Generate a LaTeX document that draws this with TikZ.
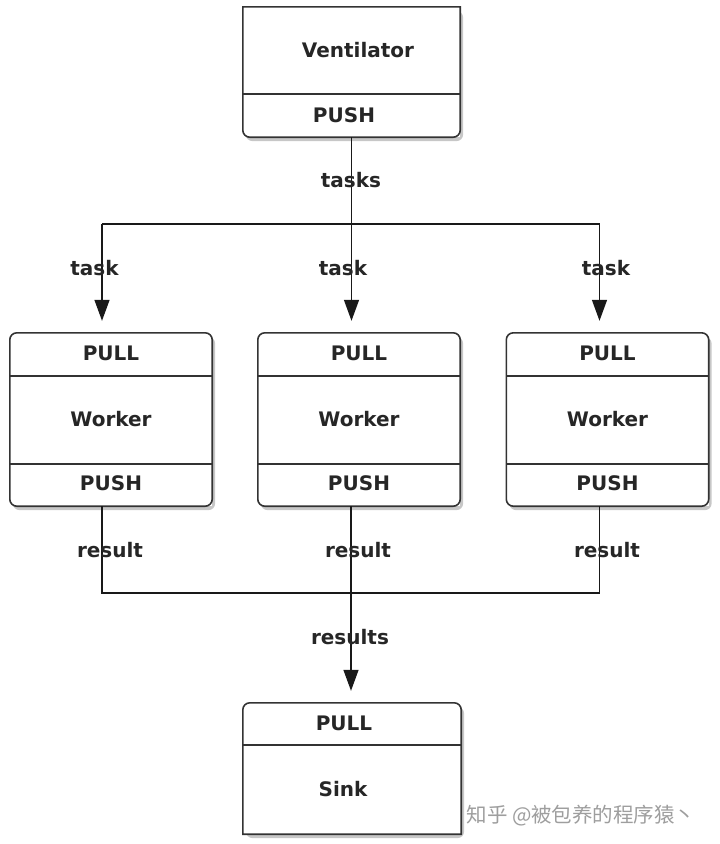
\documentclass[tikz,border=0pt]{standalone}
\usepackage{fontspec}
\setmainfont{DejaVu Sans}
\newfontfamily\cjkfont{Noto Sans CJK SC}
\usetikzlibrary{arrows.meta,calc}
\begin{document}
\begin{tikzpicture}[x=1pt,y=-1pt,
  lbl/.style={font=\bfseries\fontsize{20}{23}\selectfont, text=black!85, inner sep=0pt},
  boxframe/.style={draw=black!80, line width=1.6pt},
  divider/.style={draw=black!80, line width=1.4pt},
  conn/.style={draw=black!90, line width=1.4pt},
  arr/.style={conn, -{Triangle[width=15pt,length=21pt]}, shorten >=12pt},
  shade/.style={fill=black, opacity=0.22, rounded corners=7pt},
  box/.style={inner sep=0pt, minimum width=202pt, minimum height=173pt}
]
\fill[white] (0,0) rectangle (720,844);
\useasboundingbox (0,0) rectangle (720,844);

% ---------- boxes ----------
\node[box, minimum width=217pt, minimum height=130pt] (vent) at (351.5,72) {};
\node[box] (w1) at (111,419.5) {};
\node[box] (w2) at (359,419.5) {};
\node[box] (w3) at (607.5,419.5) {};
\node[box, minimum width=218pt, minimum height=131pt] (sink) at (352,768.5) {};

% shadows
\foreach \b in {vent,w1,w2,w3,sink}{
  \fill[shade] ([xshift=3pt,yshift=-4pt]\b.north west) rectangle ([xshift=3pt,yshift=-4pt]\b.south east);
  \fill[white] (\b.north west) rectangle (\b.south east);
}

\begin{scope}[y=1pt]
% ventilator frame: square top, rounded bottom
\draw[boxframe] ([yshift=7pt]vent.south east) -- (vent.north east) -- (vent.north west)
  -- ([yshift=7pt]vent.south west) arc[start angle=180, end angle=270, radius=7pt]
  -- ([xshift=-7pt]vent.south east) arc[start angle=270, end angle=360, radius=7pt] -- cycle;
% sink frame: rounded top, square bottom
\draw[boxframe] ([yshift=-7pt]sink.north west) arc[start angle=180, end angle=90, radius=7pt]
  -- ([xshift=-7pt]sink.north east) arc[start angle=90, end angle=0, radius=7pt]
  -- (sink.south east) -- (sink.south west) -- cycle;
\end{scope}
\draw[divider] (vent.west |- 0,94) -- (vent.east |- 0,94);
\draw[divider] (sink.west |- 0,745) -- (sink.east |- 0,745);

% workers: all rounded
\foreach \b in {w1,w2,w3}{
  \draw[boxframe, rounded corners=7pt] (\b.north west) rectangle (\b.south east);
  \draw[divider] (\b.west |- 0,376) -- (\b.east |- 0,376);
  \draw[divider] (\b.west |- 0,464) -- (\b.east |- 0,464);
}

% ---------- box texts ----------
\node[lbl] (ventname) at (358,50) {Ventilator};
\node[lbl] (ventpush) at (344,115) {PUSH};
\foreach \b/\x in {w1/111,w2/359,w3/607.5}{
  \node[lbl] (\b pull) at (\x,353) {PULL};
  \node[lbl] (\b name) at (\x,419) {Worker};
  \node[lbl] (\b push) at (\x,483) {PUSH};
}
\node[lbl] (sinkpull) at (344,723) {PULL};
\node[lbl] (sinkname) at (343,789) {Sink};

% ---------- connectors: tasks ----------
\coordinate (tj) at (vent.south |- 0,224);
\coordinate (w1in) at ([xshift=-9pt]w1.north);
\coordinate (w2in) at (tj |- w2.north);
\coordinate (w3in) at ([xshift=-8pt]w3.north);
\draw[conn] (vent.south) -- (tj);
\draw[conn] (w1in |- tj) -- (w3in |- tj);
\draw[arr] (w1in |- tj) -- (w1in);
\draw[arr] (tj) -- (w2in);
\draw[arr] (w3in |- tj) -- (w3in);

% ---------- connectors: results ----------
\coordinate (w1out) at ([xshift=-9pt]w1.south);
\coordinate (w2out) at ([xshift=-8pt]w2.south);
\coordinate (w3out) at ([xshift=-8pt]w3.south);
\coordinate (rj) at (w2out |- 0,593);
\draw[conn] (w1out) |- (rj) -| (w3out);
\draw[arr] (w2out) -- (w2out |- sink.north);

% ---------- connector labels ----------
\node[lbl] (ltasks) at (351,180) {tasks};
\node[lbl] (ltask1) at (94.5,268) {task};
\node[lbl] (ltask2) at (343,268) {task};
\node[lbl] (ltask3) at (606,268) {task};
\node[lbl] (lres1) at (110,550) {result};
\node[lbl] (lres2) at (358,550) {result};
\node[lbl] (lres3) at (607,550) {result};
\node[lbl] (lresults) at (350,637) {results};

% watermark
\node[font=\cjkfont\fontsize{20.5}{24}\selectfont, text=black!38, inner sep=0pt] (wm) at (581,816) {知乎 @被包养的程序猿丶};
\end{tikzpicture}
\end{document}
